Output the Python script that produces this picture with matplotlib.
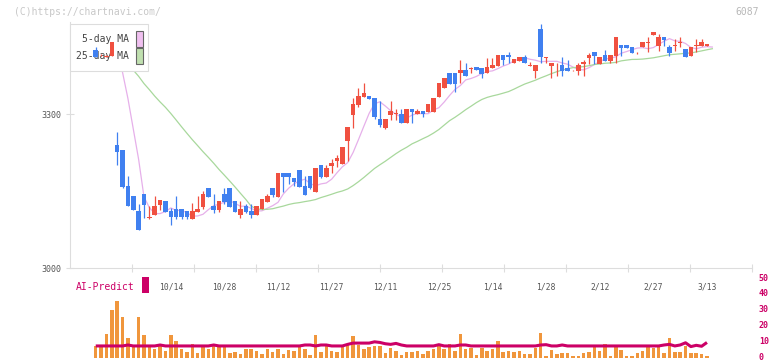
import matplotlib
matplotlib.use("Agg")
import matplotlib.pyplot as plt
from matplotlib.patches import Rectangle
from matplotlib.transforms import blended_transform_factory, ScaledTranslation
import numpy as np

# daily candles (yen), oldest first
opens = [3425, 3414, 3412, 3413, 3240, 3230, 3160, 3140, 3111, 3144,
         3098, 3103, 3123, 3131, 3111, 3115, 3115, 3111, 3096, 3109,
         3119, 3156, 3121, 3113, 3144, 3156, 3131, 3103, 3121, 3111,
         3103, 3115, 3129, 3156, 3138, 3185, 3185, 3175, 3191, 3160,
         3179, 3148, 3201, 3177, 3199, 3208, 3203, 3247, 3298, 3318,
         3333, 3335, 3331, 3290, 3273, 3298, 3300, 3300, 3283, 3310,
         3300, 3306, 3304, 3304, 3333, 3351, 3380, 3380, 3380, 3386,
         3388, 3392, 3390, 3380, 3390, 3394, 3415, 3415, 3399, 3403,
         3411, 3394, 3384, 3466, 3410, 3394, 3379, 3396, 3390, 3385,
         3384, 3397, 3409, 3421, 3397, 3415, 3403, 3413, 3434, 3434,
         3431, 3418, 3430, 3439, 3454, 3432, 3450, 3430, 3433, 3439,
         3426, 3413, 3433, 3432, 3432]
highs = [3431, 3416, 3414, 3440, 3265, 3230, 3179, 3140, 3125, 3144,
         3121, 3140, 3133, 3131, 3117, 3140, 3115, 3111, 3127, 3140,
         3150, 3156, 3144, 3131, 3156, 3156, 3131, 3131, 3125, 3125,
         3121, 3134, 3144, 3156, 3185, 3185, 3185, 3175, 3191, 3179,
         3179, 3195, 3201, 3201, 3212, 3220, 3236, 3275, 3331, 3351,
         3360, 3335, 3331, 3325, 3290, 3325, 3310, 3310, 3310, 3310,
         3310, 3306, 3320, 3331, 3360, 3370, 3380, 3380, 3405, 3399,
         3392, 3392, 3390, 3409, 3409, 3415, 3415, 3421, 3407, 3411,
         3415, 3401, 3396, 3475, 3411, 3399, 3399, 3411, 3405, 3386,
         3399, 3405, 3419, 3421, 3411, 3425, 3415, 3450, 3434, 3434,
         3431, 3420, 3440, 3450, 3460, 3456, 3450, 3434, 3446, 3450,
         3426, 3431, 3446, 3446, 3435]
lows = [3411, 3413, 3411, 3413, 3200, 3156, 3121, 3113, 3074, 3097,
        3096, 3103, 3113, 3109, 3084, 3096, 3096, 3096, 3096, 3109,
        3115, 3138, 3107, 3109, 3125, 3119, 3109, 3097, 3107, 3097,
        3103, 3115, 3129, 3138, 3138, 3148, 3164, 3159, 3158, 3142,
        3154, 3148, 3175, 3177, 3185, 3197, 3203, 3208, 3273, 3314,
        3333, 3329, 3290, 3275, 3271, 3288, 3288, 3283, 3283, 3283,
        3300, 3294, 3304, 3304, 3333, 3351, 3358, 3343, 3360, 3374,
        3380, 3386, 3370, 3380, 3390, 3394, 3395, 3399, 3399, 3403,
        3399, 3393, 3370, 3399, 3399, 3370, 3374, 3374, 3384, 3384,
        3376, 3374, 3397, 3397, 3397, 3403, 3399, 3399, 3413, 3429,
        3419, 3417, 3430, 3421, 3454, 3423, 3433, 3413, 3423, 3431,
        3411, 3413, 3421, 3432, 3432]
closes = [3411, 3415, 3413, 3440, 3226, 3158, 3121, 3113, 3074, 3123,
          3099, 3121, 3133, 3109, 3099, 3099, 3099, 3099, 3111, 3115,
          3144, 3138, 3113, 3131, 3129, 3119, 3109, 3115, 3109, 3103,
          3121, 3134, 3140, 3142, 3185, 3177, 3177, 3168, 3158, 3142,
          3156, 3195, 3177, 3195, 3205, 3214, 3236, 3275, 3320, 3335,
          3341, 3329, 3294, 3279, 3290, 3306, 3301, 3283, 3310, 3304,
          3306, 3300, 3320, 3331, 3360, 3370, 3358, 3358, 3386, 3374,
          3390, 3386, 3378, 3392, 3396, 3415, 3405, 3411, 3407, 3411,
          3399, 3396, 3396, 3411, 3411, 3399, 3380, 3384, 3384, 3386,
          3396, 3401, 3415, 3413, 3411, 3403, 3415, 3450, 3429, 3429,
          3419, 3419, 3440, 3440, 3460, 3450, 3444, 3419, 3434, 3440,
          3411, 3431, 3434, 3440, 3436]
# closes before the first shown day (only feed the moving averages)
prior_closes = [3405, 3418, 3422, 3410, 3398, 3402, 3415, 3428, 3420, 3412,
                3405, 3396, 3408, 3419, 3425, 3416, 3409, 3402, 3411, 3420,
                3426, 3418, 3410, 3414]
volume = [7.4, 7.4, 15.0, 30.0, 35.7, 25.8, 12.4, 7.4, 25.8, 14.3,
          7.4, 5.3, 7.4, 4.4, 14.3, 10.5, 5.3, 3.8, 8.6, 3.2,
          7.0, 5.3, 7.4, 7.4, 7.4, 3.2, 3.8, 2.3, 5.3, 5.5,
          4.4, 2.3, 5.5, 3.8, 5.5, 2.3, 4.8, 4.4, 7.4, 5.3,
          1.7, 14.3, 3.8, 7.4, 4.4, 3.8, 7.4, 8.0, 13.7, 8.0,
          5.3, 7.0, 7.4, 7.4, 3.2, 6.3, 4.4, 1.7, 3.8, 3.8,
          4.4, 2.3, 4.4, 5.5, 7.4, 5.5, 8.6, 4.4, 14.9, 5.3,
          5.9, 1.7, 6.3, 4.4, 5.3, 10.5, 3.8, 4.4, 3.8, 4.4,
          2.3, 2.3, 6.3, 15.8, 1.1, 4.9, 2.3, 2.8, 2.8, 1.1,
          1.1, 2.8, 3.8, 6.5, 4.4, 8.6, 1.1, 6.9, 4.9, 1.1,
          1.1, 2.8, 4.4, 6.5, 5.9, 6.5, 2.8, 12.6, 3.8, 3.8,
          7.4, 2.8, 2.8, 2.3, 1.1]
ai_predict = [7.4, 7.4, 7.4, 7.4, 7.4, 7.4, 8.0, 7.4, 7.4, 7.4,
              7.4, 7.4, 8.0, 7.4, 7.4, 7.4, 7.4, 7.4, 7.4, 7.4,
              7.4, 7.4, 8.0, 7.4, 7.4, 7.4, 7.4, 7.4, 7.4, 7.4,
              7.4, 7.4, 7.4, 7.4, 7.4, 7.4, 7.4, 7.4, 7.4, 8.0,
              8.0, 7.4, 8.0, 8.0, 7.4, 7.4, 7.4, 8.4, 9.2, 9.2,
              9.2, 9.2, 10.0, 9.6, 8.8, 8.4, 9.0, 8.0, 7.4, 7.4,
              7.4, 7.4, 7.4, 7.4, 8.2, 7.4, 7.4, 7.4, 8.0, 8.0,
              7.4, 7.4, 7.4, 7.4, 7.4, 7.4, 7.4, 7.4, 7.4, 7.4,
              7.4, 7.4, 7.4, 8.0, 8.2, 7.4, 7.4, 8.0, 7.4, 7.4,
              7.4, 7.4, 7.4, 7.4, 7.4, 7.4, 7.4, 7.4, 7.4, 7.4,
              7.4, 7.4, 7.4, 7.4, 7.4, 7.4, 8.0, 8.4, 7.4, 8.0,
              9.4, 7.0, 7.8, 7.2, 9.6]
date_labels = ['10/14', '10/28', '11/12', '11/27', '12/11', '12/25',
               '1/14', '1/28', '2/12', '2/27', '3/13']
price_ticks = [3000, 3300]
volume_ticks = [0, 10, 20, 30, 40, 50]
code = '6087'

UP = '#f05040'
DOWN = '#4080f0'
MONO = 'DejaVu Sans Mono'

W, H = 772, 361
fig = plt.figure(figsize=(W / 100, H / 100), dpi=100)

n = len(closes)
x = np.arange(n)
xlim = (-4.8, 122.4)

# ---- volume / AI-Predict panel (made first so the price panel's labels sit on top)
vax = fig.add_axes([70 / W, 1 - 357.7 / H, 682 / W, 79.4 / H])
vax.patch.set_visible(False)
vax.set_xlim(*xlim)
vax.set_ylim(0, 50)
for s in vax.spines.values():
    s.set_visible(False)
vax.set_xticks([])
vax.yaxis.tick_right()
vax.set_yticks(volume_ticks)
vax.set_yticklabels([str(v) for v in volume_ticks], family=MONO, fontweight='bold')
vax.tick_params(axis='y', length=0, labelcolor='#cc0066', labelsize=6, pad=5)
# nudge the labels up a pixel so "0" is not clipped by the bottom edge
up1 = ScaledTranslation(0, 1.2 / 100, fig.dpi_scale_trans)
for lbl in vax.get_yticklabels():
    lbl.set_transform(lbl.get_transform() + up1)
vax.bar(x, volume, width=0.65, color='#f0963c', zorder=2)
vax.plot(x, ai_predict, color='#cc0066', lw=2.2, zorder=3, solid_capstyle='butt')

# ---- price panel
ax = fig.add_axes([70 / W, 1 - 268 / H, 682 / W, 246 / H])
ax.patch.set_visible(False)
ax.set_xlim(*xlim)
ax.set_ylim(3000, 3000 + 246 * 300 / 154)

for s in ['top', 'right']:
    ax.spines[s].set_visible(False)
for s in ['left', 'bottom']:
    ax.spines[s].set_color('#dddddd')
    ax.spines[s].set_linewidth(0.8)

ax.set_yticks(price_ticks)
ax.set_yticklabels([str(v) for v in price_ticks], family=MONO)
ax.tick_params(axis='y', direction='inout', length=6, color='#dddddd',
               labelcolor='#555555', labelsize=6, pad=3, width=0.8)
ax.set_xticks(np.linspace(xlim[0], xlim[1], 12)[1:])
ax.set_xticklabels([])
ax.tick_params(axis='x', direction='inout', length=6, color='#dddddd', width=0.8)

trans = blended_transform_factory(ax.transData, ax.transAxes)
for j, lab in enumerate(date_labels):
    ax.text(14 + 10 * j, -0.077, lab, transform=trans, ha='center', va='center',
            fontsize=5.8, color='#555555', family=MONO)

# moving averages (drawn one slot to the right, like the original)
allc = np.array(prior_closes + closes, dtype=float)
npre = len(prior_closes)
ma5 = np.convolve(allc, np.ones(5) / 5, mode='valid')
ma25 = np.convolve(allc, np.ones(25) / 25, mode='valid')
ma5_x = np.arange(len(ma5)) + 4 - npre + 1
ma25_x = np.arange(len(ma25)) + 24 - npre + 1
ax.plot(ma5_x, ma5, color='#e6b0ea', lw=0.9, zorder=2)
ax.plot(ma25_x, ma25, color='#a8d89c', lw=0.9, zorder=2)

# legend box (sits over the averages, under the candles)
ax.add_patch(Rectangle((70 / W, 1 - 71 / H), 78 / W, 47 / H, transform=fig.transFigure,
                       facecolor='white', edgecolor='#dddddd', lw=0.8, zorder=3, clip_on=False))
for yy, lab, col in [(39, '5-day MA', '#f0c0f0'), (56, '25-day MA', '#c0e0b0')]:
    ax.text(129 / W, 1 - yy / H, lab, transform=fig.transFigure, ha='right', va='center',
            fontsize=7, color='#444444', family=MONO, zorder=4)
    ax.add_patch(Rectangle((136 / W, 1 - (yy + 8) / H), 6.5 / W, 15.5 / H,
                           transform=fig.transFigure, facecolor=col, edgecolor='#666666',
                           lw=0.8, zorder=4, clip_on=False))

# candles
o = np.array(opens, float)
c = np.array(closes, float)
colors = [UP if cc >= oo else DOWN for oo, cc in zip(o, c)]
ax.vlines(x, lows, highs, colors=colors, lw=0.9, zorder=5)
body = np.maximum(np.abs(c - o), 1.6)
ax.bar(x, body, bottom=np.minimum(o, c), width=0.85, color=colors, zorder=6)

fig.text(76 / W, 1 - 287 / H, 'AI-Predict', color='#cc0066', fontsize=7,
         family=MONO, va='center', ha='left')
fig.patches.append(Rectangle((142 / W, 1 - 293 / H), 7 / W, 16 / H, transform=fig.transFigure,
                             facecolor='#cc0066', edgecolor='none', figure=fig))

fig.text(14 / W, 1 - 12 / H, '(C)https://chartnavi.com/', color='#c8c8c8', fontsize=7,
         family=MONO, va='center', ha='left')
fig.text(759 / W, 1 - 12 / H, code, color='#b8b8b8', fontsize=7,
         family=MONO, va='center', ha='right')

fig.savefig('out.png', dpi=100)
